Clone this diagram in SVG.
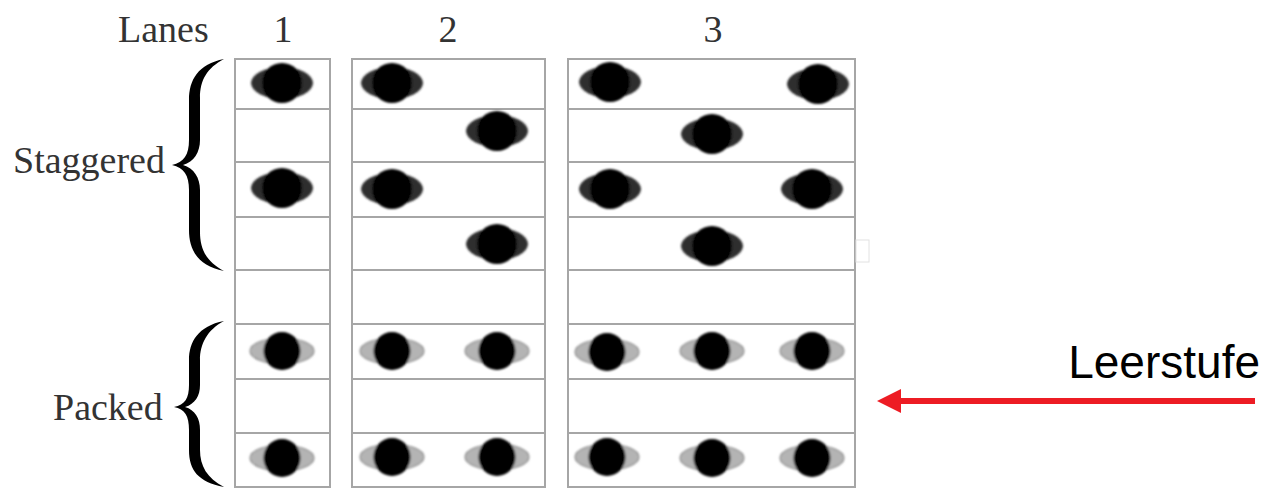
<svg xmlns="http://www.w3.org/2000/svg" width="1271" height="493" viewBox="0 0 1271 493">
  <style>
    .serif { font-family: "Liberation Serif", "Times New Roman", serif; font-size: 38px; fill: #333; }
    .sans { font-family: "Liberation Sans", Arial, sans-serif; font-size: 46px; fill: #000; }
    .grid { fill: none; stroke: #a6a6a6; stroke-width: 2; }
    .brace { fill: #000; }
  </style>
  <defs>
    <filter id="soft" x="-20%" y="-20%" width="140%" height="140%">
      <feGaussianBlur stdDeviation="0.8"/>
    </filter>
    <g id="stag" filter="url(#soft)">
      <ellipse cx="0" cy="0" rx="31" ry="16" fill="#2e2e2e"/>
      <ellipse cx="0" cy="0" rx="20" ry="20" fill="#000"/>
    </g>
    <g id="pack" filter="url(#soft)">
      <ellipse cx="0" cy="0" rx="32" ry="13" fill="#b4b4b4" stroke="#8f8f8f" stroke-width="1.2"/>
      <ellipse cx="0" cy="0" rx="18.5" ry="19" fill="#000"/>
    </g>
    <marker id="arrowhead" markerUnits="userSpaceOnUse" markerWidth="24" markerHeight="24" refX="4" refY="12" orient="auto">
      <path d="M0,0 L24,12 L0,24 Z" fill="#ed1c24"/>
    </marker>
  </defs>

  <g id="header">
    <text class="serif" x="118" y="42">Lanes</text>
    <text class="serif" x="283" y="42" text-anchor="middle">1</text>
    <text class="serif" x="448" y="42" text-anchor="middle">2</text>
    <text class="serif" x="713" y="42" text-anchor="middle">3</text>
  </g>

  <g id="staggered-label">
    <text class="serif" x="13" y="173">Staggered</text>
    <path class="brace" d="M224,59 C198,64 189,80 189,100 L189,140 C189,155 184,162 172,165 C184,168 189,175 189,190 L189,230 C189,250 198,266 224,271 C207,262 200,250 200,232 L200,190 C200,178 194,168 183,165 C194,162 200,152 200,140 L200,98 C200,80 207,68 224,59 Z"/>
  </g>

  <g id="packed-label">
    <text class="serif" x="53" y="420">Packed</text>
    <path class="brace" d="M224,321 C198,326 189,342 189,360 L189,385 C189,398 185,405 174,407 C185,409 189,416 189,430 L189,450 C189,470 198,482 224,487 C207,478 200,466 200,450 L200,430 C200,418 195,410 185,407 C195,404 200,396 200,385 L200,360 C200,344 207,330 224,321 Z"/>
  </g>

  <g id="lane1">
    <rect class="grid" x="235" y="59" width="95" height="428"/>
    <path class="grid" d="M235,109H330M235,162H330M235,217H330M235,270H330M235,324H330M235,379H330M235,433H330"/>
    <use href="#stag" x="282" y="83"/>
    <use href="#stag" x="282" y="188"/>
    <use href="#pack" x="282" y="351"/>
    <use href="#pack" x="282" y="458"/>
  </g>

  <g id="lane2">
    <rect class="grid" x="352" y="59" width="193" height="428"/>
    <path class="grid" d="M352,109H545M352,162H545M352,217H545M352,270H545M352,324H545M352,379H545M352,433H545"/>
    <use href="#stag" x="392" y="83"/>
    <use href="#stag" x="497" y="131"/>
    <use href="#stag" x="392" y="189"/>
    <use href="#stag" x="497" y="244"/>
    <use href="#pack" x="392" y="351"/>
    <use href="#pack" x="497" y="351"/>
    <use href="#pack" x="392" y="457"/>
    <use href="#pack" x="497" y="457"/>
  </g>

  <g id="lane3">
    <rect class="grid" x="568" y="59" width="287" height="428"/>
    <path class="grid" d="M568,109H855M568,162H855M568,217H855M568,270H855M568,324H855M568,379H855M568,433H855"/>
    <use href="#stag" x="610" y="82"/>
    <use href="#stag" x="818" y="84"/>
    <use href="#stag" x="712" y="134"/>
    <use href="#stag" x="610" y="189"/>
    <use href="#stag" x="812" y="189"/>
    <use href="#stag" x="712" y="246"/>
    <use href="#pack" x="607" y="352"/>
    <use href="#pack" x="712" y="351"/>
    <use href="#pack" x="812" y="351"/>
    <use href="#pack" x="607" y="457"/>
    <use href="#pack" x="712" y="458"/>
    <use href="#pack" x="812" y="458"/>
  </g>

  <g id="artifact">
    <rect x="856" y="240" width="13" height="22" fill="none" stroke="#e2e2e2" stroke-width="1"/>
  </g>

  <g id="leerstufe">
    <text class="sans" x="1260" y="378" text-anchor="end">Leerstufe</text>
  </g>

  <g id="connectors">
    <line x1="1255" y1="401" x2="897" y2="401" stroke="#ed1c24" stroke-width="6" marker-end="url(#arrowhead)"/>
  </g>
</svg>
